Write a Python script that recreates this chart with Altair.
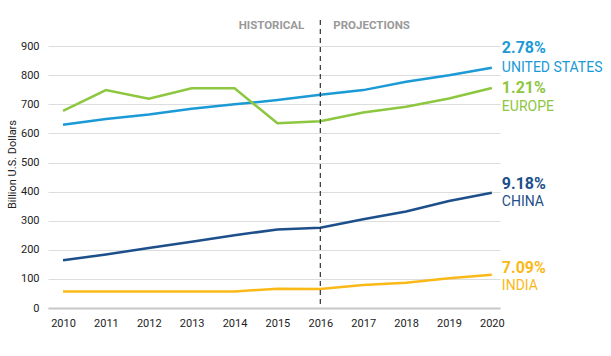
import altair as alt
import pandas as pd

years = [2010, 2011, 2012, 2013, 2014, 2015, 2016, 2017, 2018, 2019, 2020]
united_states = [630, 650, 665, 685, 700, 715, 733, 749, 778, 800, 826]
europe = [678, 749, 719, 755, 755, 635, 642, 672, 692, 720, 756]
china = [164, 184, 206, 228, 250, 270, 276, 305, 332, 368, 396]
india = [57, 57, 57, 57, 57, 66, 65, 79, 87, 102, 114]

series_names = ["UNITED STATES", "EUROPE", "CHINA", "INDIA"]
growth_labels = ["2.78%", "1.21%", "9.18%", "7.09%"]
colors = ["#1b9ad6", "#8dc63f", "#1d4f8b", "#fbb917"]
divider_year = 2016
y_ticks = [0, 100, 200, 300, 400, 500, 600, 700, 800, 900]

FONT = "Roboto, sans-serif"

values = [united_states, europe, china, india]
rows = []
for name, vals in zip(series_names, values):
    for yr, v in zip(years, vals):
        rows.append({"year": yr, "value": v, "series": name})
df = pd.DataFrame(rows)

xscale = alt.Scale(domain=[2009.65, 2020.19], nice=False, zero=False)
yscale = alt.Scale(domain=[0, 990], nice=False)

x_axis = alt.Axis(values=years, format="d", title=None, grid=False, ticks=False,
                  domain=True, domainColor="#c8c8c8", domainWidth=2,
                  labelFont=FONT, labelFontSize=11, labelColor="#222",
                  labelPadding=9, labelOverlap=False)
y_axis = alt.Axis(values=y_ticks, title="Billion U.S. Dollars", ticks=False,
                  domain=False, grid=True,
                  gridColor="#dddddd", gridWidth=1, labelOverlap=False,
                  labelFont=FONT, labelFontSize=11, labelColor="#222", labelPadding=9,
                  titleFont=FONT, titleFontSize=11, titleFontWeight="normal",
                  titleColor="#222", titleX=-36, titleBaseline="middle")


def X(field="year"):
    return alt.X(f"{field}:Q", scale=xscale, axis=x_axis)


def Y(field="value"):
    return alt.Y(f"{field}:Q", scale=yscale, axis=y_axis)


lines = alt.Chart(df).mark_line(strokeWidth=2.5).encode(
    x=X(), y=Y(),
    color=alt.Color("series:N", scale=alt.Scale(domain=series_names, range=colors), legend=None),
)

divider = alt.Chart(pd.DataFrame({"year": [divider_year]})).mark_rule(
    strokeDash=[5, 4], color="#333", strokeWidth=1.2
).encode(x=X())

period_df = pd.DataFrame({"year": [divider_year, divider_year], "label": ["HISTORICAL", "PROJECTIONS"],
                          "side": ["left", "right"]})
hist = alt.Chart(period_df[period_df.side == "left"]).mark_text(
    align="right", baseline="middle", dx=-16, font=FONT, fontSize=11.5, fontWeight="bold", color="#999"
).encode(x=X(), y=alt.value(6), text="label:N")
proj = alt.Chart(period_df[period_df.side == "right"]).mark_text(
    align="left", baseline="middle", dx=13, font=FONT, fontSize=11.5, fontWeight="bold", color="#999"
).encode(x=X(), y=alt.value(6), text="label:N")

pct_offsets = [-20, 0, -9, -7]
name_offsets = [0, 19, 9, 11]
label_layers = []
for name, pct, col, vals, po, no in zip(series_names, growth_labels, colors, values,
                                        pct_offsets, name_offsets):
    ldf = pd.DataFrame({"year": [years[-1]], "value": [vals[-1]], "pct": [pct], "name": [name]})
    label_layers.append(alt.Chart(ldf).mark_text(
        align="left", baseline="middle", dx=10, dy=po, font=FONT, fontSize=16,
        fontWeight="bold", color=col
    ).encode(x=X(), y=Y(), text="pct:N"))
    label_layers.append(alt.Chart(ldf).mark_text(
        align="left", baseline="middle", dx=10, dy=no, font=FONT, fontSize=14,
        color=col
    ).encode(x=X(), y=Y(), text="name:N"))

chart = alt.layer(lines, divider, hist, proj, *label_layers).properties(
    width=452, height=288,
    autosize=alt.AutoSizeParams(type="none"),
    padding={"left": 48, "top": 20, "right": 111, "bottom": 48},
    background="white",
).configure_view(stroke=None)

chart.save("out.html", embed_options={"renderer": "svg", "actions": False})
